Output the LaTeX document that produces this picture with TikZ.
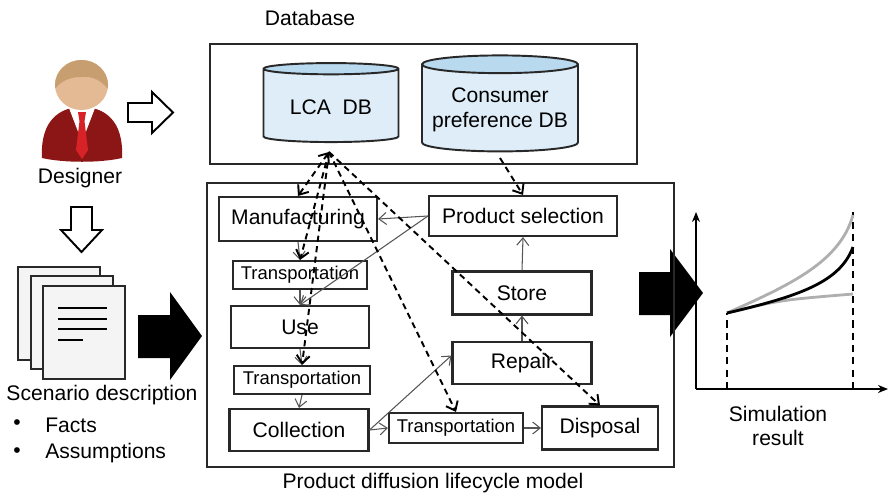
\documentclass[tikz,border=0pt]{standalone}
\usepackage{fontspec}
\setmainfont{Liberation Sans}
\usetikzlibrary{arrows.meta,positioning,shapes.geometric,calc}
\definecolor{boxline}{RGB}{40,40,40}
\definecolor{flowgray}{RGB}{85,85,85}
\definecolor{dbblue}{RGB}{160,205,232}
\definecolor{suitred}{RGB}{140,22,22}
\definecolor{tiered}{RGB}{215,35,40}
\definecolor{skin}{RGB}{228,186,148}
\definecolor{hair}{RGB}{198,158,112}
\definecolor{paper}{RGB}{244,244,244}
\definecolor{curvegray}{RGB}{175,175,175}

\begin{document}
\begin{tikzpicture}[x=0.02cm,y=-0.02cm,
  txt/.style={font=\fontsize{12}{14}\selectfont,inner sep=0pt,align=center},
  stage/.style={draw=boxline,line width=1.2pt,fill=white,inner sep=0pt,font=\fontsize{12}{14}\selectfont},
  trans/.style={stage,font=\fontsize{10.5}{12}\selectfont,minimum height=0.56cm},
  flow/.style={draw=flowgray,line width=0.6pt,-{Straight Barb[length=1.5mm,width=2.4mm]}},
  data/.style={draw=black,line width=1.1pt,dash pattern=on 3.5pt off 2.5pt,-{Straight Barb[length=1.6mm,width=2.6mm]}},
  dbase/.style={cylinder,shape border rotate=90,aspect=0.12,draw=boxline,line width=1.1pt,
    cylinder uses custom fill,cylinder body fill=dbblue!35,cylinder end fill=dbblue!75,
    align=center,font=\fontsize{12}{14}\selectfont},
  hollow/.style={draw=black,line width=1.1pt,fill=white,line join=miter},
  bigarrow/.style={fill=black}]
\useasboundingbox (0,0) rectangle (889,495);

% designer
\fill[suitred] (42,158) .. controls (40,120) and (60,107) .. (82,107) .. controls (104,107) and (124,120) .. (122,158)
  .. controls (100,163) and (64,163) .. cycle;
\fill[white] (69,108) -- (82,142) -- (95,108) -- cycle;
\fill[tiered] (78,112) -- (86,112) -- (84.5,121) -- (88,150) -- (82,159) -- (76,150) -- (79.5,121) -- cycle;
\fill[skin] (81.5,85) ellipse [x radius=26.5,y radius=25];
\begin{scope}
  \clip (81.5,85) ellipse [x radius=26.5,y radius=25];
  \fill[hair] (50,55) -- (112,55) -- (112,96) .. controls (104,80) and (93,76) .. (81,77)
    .. controls (68,77) and (58,82) .. (50,96) -- cycle;
\end{scope}
\node[txt] (designer) at (80,178) {Designer};

\draw[hollow] (128,103) -- (152,103) -- (152,92) -- (173,112.5) -- (152,133) -- (152,122) -- (128,122) -- cycle;
\draw[hollow] (71,207) -- (92,207) -- (92,230) -- (102,230) -- (81.5,252) -- (61,230) -- (71,230) -- cycle;

% scenario pages
\foreach \dx/\dy in {0/0,13/9,25/19}
  \draw[draw=boxline,line width=0.9pt,fill=paper] (18+\dx,267+\dy) rectangle (100+\dx,360+\dy);
\foreach \yy/\xe in {308/107,319/107,329/107,340/83}
  \draw[line width=1.5pt] (58,\yy) -- (\xe,\yy);
\node[txt] (scenario) at (102,395) {Scenario description};
\node[txt] (bul1) at (17,425) {\textbullet};
\node[txt,anchor=west] (facts) at (45,425) {Facts};
\node[txt] (bul2) at (17,453) {\textbullet};
\node[txt,anchor=west] (assump) at (45,453) {Assumptions};

\fill[bigarrow] (138,315) -- (170,315) -- (170,292) -- (202,336) -- (170,380) -- (170,358) -- (138,358) -- cycle;
\fill[bigarrow] (639,272) -- (670,272) -- (670,249) -- (703,293) -- (670,337) -- (670,315) -- (639,315) -- cycle;

% database
\node[txt] (dbcap) at (310,18) {Database};
\draw[line width=1.2pt,draw=boxline] (210,44) rectangle (637,164);
\node[dbase,minimum width=2.7cm,minimum height=1.58cm] (lca) at (331,107) {LCA\ \ DB};
\node[dbase,minimum width=3.12cm,minimum height=1.92cm] (cons) at (500,110) {Consumer\\preference DB};
\coordinate (lcafoot) at (329,152);
\coordinate (consfoot) at (500,158);

% lifecycle model
\draw[line width=1.2pt,draw=boxline] (207,183) rectangle (674,467);
\node[txt] (modelcap) at (433,483) {Product diffusion lifecycle model};

\node[stage,minimum width=3.16cm,minimum height=0.88cm] (manu) at (298,219) {Manufacturing};
\node[stage,minimum width=3.76cm,minimum height=0.80cm] (prodsel) at (523,216) {Product selection};
\node[trans,minimum width=2.68cm] (trans1) at (300,275) {Transportation};
\node[stage,minimum width=2.76cm,minimum height=0.84cm] (use) at (300,327) {Use};
\node[trans,minimum width=2.72cm] (trans2) at (302,380) {Transportation};
\node[stage,minimum width=2.78cm,minimum height=0.84cm] (coll) at (299,430) {Collection};
\node[trans,minimum width=2.68cm,minimum height=0.6cm] (trans3) at (456,428) {Transportation};
\node[stage,minimum width=2.32cm,minimum height=0.86cm] (disp) at (600,428) {Disposal};
\node[stage,minimum width=2.78cm,minimum height=0.86cm] (store) at (522,293) {Store};
\node[stage,minimum width=2.78cm,minimum height=0.84cm] (repair) at (522,363) {Repair};

% product flow
\draw[flow] (prodsel.west) -- (manu.east);
\draw[flow] (prodsel.west) -- (use.north);
\foreach \a/\b in {manu/trans1,trans1/use,use/trans2,trans2/coll}
  \draw[flow] (\a.south) -- (\b.north);
\foreach \a/\b in {repair/store,store/prodsel}
  \draw[flow] (\a.north) -- (\b.south);
\draw[flow] (coll.east) -- (trans3.west);
\draw[flow] (coll.east) -- ([yshift=0.15cm]repair.west);
\draw[flow] (trans3.east) -- (disp.west);

% data links
\draw[data,{Straight Barb[length=1.6mm,width=2.6mm]}-{Straight Barb[length=1.6mm,width=2.6mm]}] (lcafoot) -- (manu.north);
\foreach \t in {trans1,trans2,trans3,disp}
  \draw[data] (lcafoot) -- (\t.north);
\draw[data] (consfoot) -- (prodsel.north);

% simulation result
\coordinate (origin) at (696,389);
\draw[line width=1.3pt,-{Stealth[length=2mm,width=1.6mm]}] (origin) -- (696,212);
\draw[line width=1.3pt,-{Stealth[length=2mm,width=1.6mm]}] (origin) -- (888,389);
\draw[line width=1.3pt,dash pattern=on 4pt off 3pt] (727,389) -- (727,313);
\draw[line width=1.3pt,dash pattern=on 4pt off 3pt] (853,389) -- (853,212);
\draw[curvegray,line width=1.6pt] (727,313) .. controls (790,285) and (840,262) .. (853,215);
\draw[curvegray,line width=1.6pt] (727,313) .. controls (780,300) .. (853,294);
\draw[line width=1.6pt] (727,313) .. controls (800,296) and (840,282) .. (853,247);
\node[txt] (simcap) at (778,426) {Simulation\\result};
\end{tikzpicture}
\end{document}
